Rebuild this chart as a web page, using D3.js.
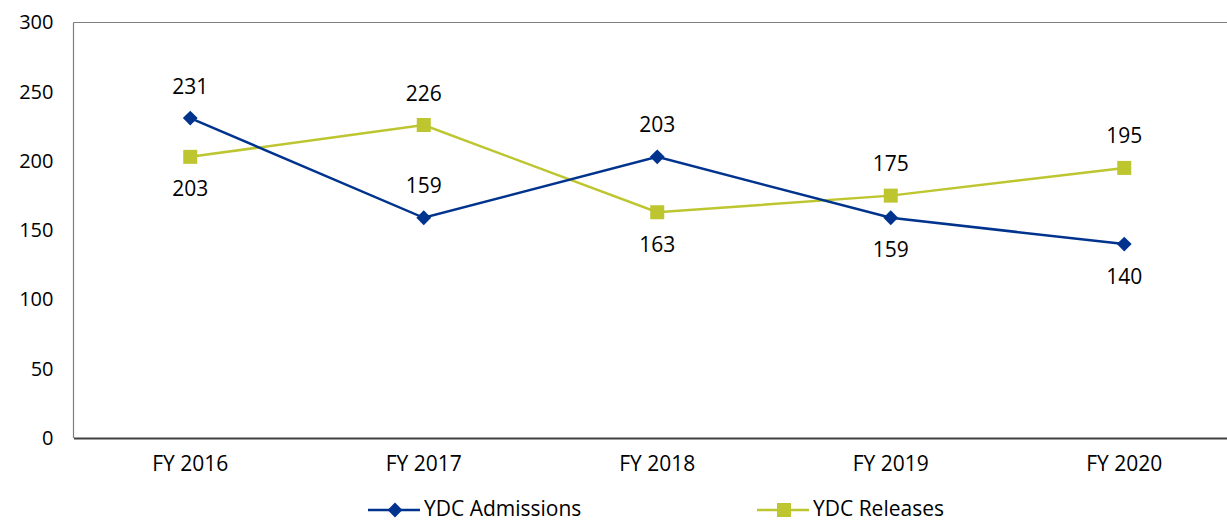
<!DOCTYPE html>
<html>
<head>
<meta charset="utf-8">
<script src="https://cdn.jsdelivr.net/npm/d3@7"></script>
<style>
  body { margin: 0; background: #fff; }
  text { font-family: "Open Sans", "Noto Sans", sans-serif; fill: #000; }
</style>
</head>
<body>
<div id="visContainer"></div>
<script>
'use strict';

// chart data
var years = ['FY 2016', 'FY 2017', 'FY 2018', 'FY 2019', 'FY 2020'];
var admissions = [231, 159, 203, 159, 140];
var releases = [203, 226, 163, 175, 195];
// where each value label sits: 1 = above the point, -1 = below
var admissionsLabelPos = [1, 1, 1, -1, -1];
var releasesLabelPos = [-1, 1, -1, 1, 1];
var yTicks = [0, 50, 100, 150, 200, 250, 300];

var width = 1227;
var height = 523;
var padding = { top: 22.5, right: -14, bottom: 85, left: 73.5 };
var fontSize = '21px';

var svg = d3.select('#visContainer')
    .append('svg')
    .attr('width', width)
    .attr('height', height);

var x = d3.scaleBand()
    .domain(years)
    .range([padding.left, width - padding.right]);

var y = d3.scaleLinear()
    .domain([0, 300])
    .range([height - padding.bottom, padding.top]);

function cx(i) { return x(years[i]) + x.bandwidth() / 2; }

// plot frame: top and left grey lines
svg.append('line')
    .attr('x1', padding.left).attr('x2', width)
    .attr('y1', y(300)).attr('y2', y(300))
    .attr('stroke', '#7f7f7f').attr('stroke-width', 1.2);
svg.append('line')
    .attr('x1', padding.left).attr('x2', padding.left)
    .attr('y1', y(300)).attr('y2', y(0))
    .attr('stroke', '#7f7f7f').attr('stroke-width', 1.2);

// y axis labels
var yAxis = d3.axisLeft(y).tickValues(yTicks).tickSize(0).tickPadding(20);
var gy = svg.append('g')
    .attr('transform', 'translate(' + padding.left + ',0)')
    .call(yAxis);
gy.select('.domain').remove();
gy.selectAll('text').attr('font-size', '20px').attr('font-family', '"Open Sans", sans-serif').attr('fill', '#000');

// x axis
var xAxis = d3.axisBottom(x).tickSize(0).tickPadding(18);
var gx = svg.append('g')
    .attr('transform', 'translate(0,' + y(0) + ')')
    .call(xAxis);
gx.select('.domain').attr('stroke', '#404040').attr('stroke-width', 2);
gx.selectAll('text').attr('font-size', fontSize).attr('font-family', '"Open Sans", sans-serif').attr('fill', '#000');

var navy = '#00338D';
var green = '#BDC52F';

// marker: square, or square turned 45 degrees for the diamond
function marker(sel, kind, px, py) {
  if (kind == 'diamond') {
    sel.attr('d', d3.symbol().type(d3.symbolSquare).size(110))
       .attr('transform', 'translate(' + px + ',' + py + ') rotate(45)');
  } else {
    sel.attr('d', d3.symbol().type(d3.symbolSquare).size(196))
       .attr('transform', 'translate(' + px + ',' + py + ')');
  }
}

function drawSeries(values, color, kind, labelPos) {
  var line = d3.line()
      .x(function(d, i) { return cx(i); })
      .y(function(d) { return y(d); });
  svg.append('path')
      .attr('d', line(values))
      .attr('fill', 'none')
      .attr('stroke', color)
      .attr('stroke-width', 2.5);
  values.forEach(function(d, i) {
    marker(svg.append('path').attr('fill', color), kind, cx(i), y(d));
  });
  svg.selectAll(null)
      .data(values)
      .enter()
      .append('text')
      .attr('x', function(d, i) { return cx(i); })
      .attr('y', function(d, i) { return y(d) - labelPos[i] * 32; })
      .attr('dy', '0.36em')
      .attr('text-anchor', 'middle')
      .attr('font-size', fontSize)
      .text(function(d) { return d; });
}

drawSeries(releases, green, 'square', releasesLabelPos);
drawSeries(admissions, navy, 'diamond', admissionsLabelPos);

// legend
var legend = [
  { name: 'YDC Admissions', color: navy, kind: 'diamond', x: 368 },
  { name: 'YDC Releases', color: green, kind: 'square', x: 757 }
];
var ly = 510;
legend.forEach(function(l) {
  svg.append('line')
      .attr('x1', l.x).attr('x2', l.x + 52)
      .attr('y1', ly).attr('y2', ly)
      .attr('stroke', l.color).attr('stroke-width', 2.5);
  marker(svg.append('path').attr('fill', l.color), l.kind, l.x + 27, ly);
  svg.append('text')
      .attr('x', l.x + 56)
      .attr('y', 516)
      .attr('font-size', fontSize)
      .text(l.name);
});
</script>
</body>
</html>
